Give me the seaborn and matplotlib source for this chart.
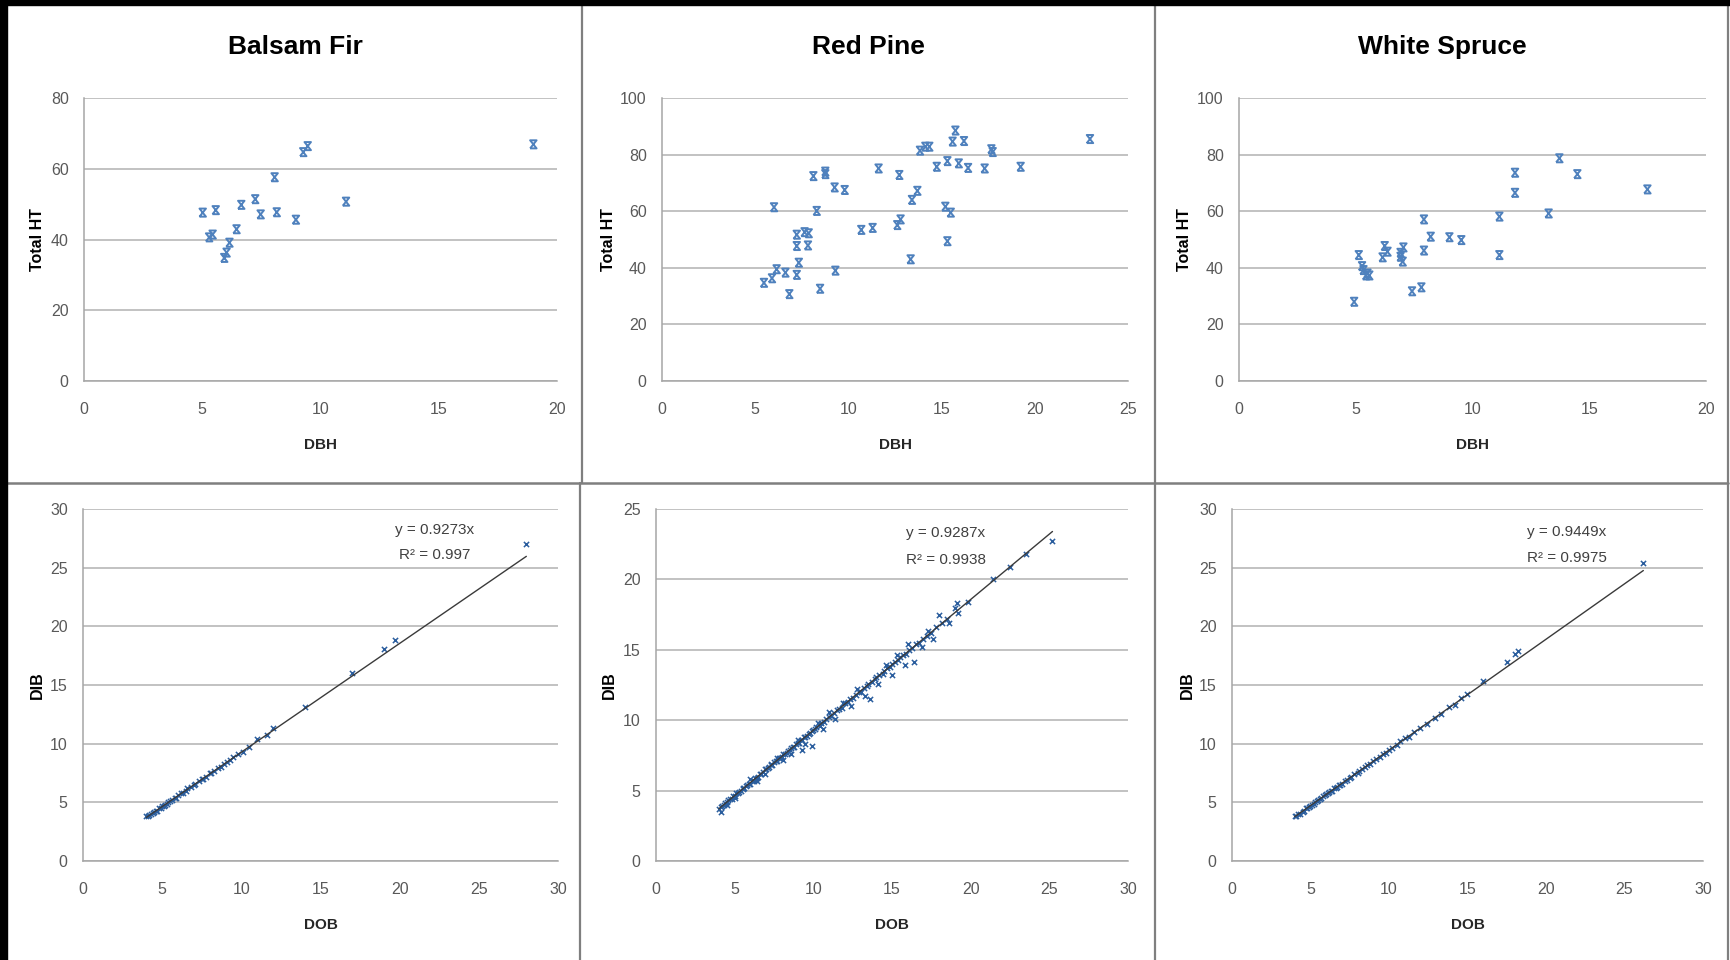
import matplotlib
matplotlib.use("Agg")
import matplotlib.pyplot as plt
from matplotlib.path import Path
from matplotlib.markers import MarkerStyle
from matplotlib.patches import Rectangle
from matplotlib.lines import Line2D
import pandas as pd
import seaborn as sns

# ---------------------------------------------------------------- data
species = ["Balsam Fir", "Red Pine", "White Spruce"]

# Total height vs. diameter at breast height
bf_dbh = [5.02, 5.57, 5.29, 5.44, 6.15, 6.03, 5.93, 6.45, 6.65, 7.24, 7.47, 8.06,
          8.15, 8.96, 9.27, 9.46, 11.08, 19.0]
bf_ht = [47.6, 48.3, 40.6, 41.4, 39.1, 36.3, 34.8, 42.9, 49.8, 51.4, 47.1, 57.6,
         47.7, 45.6, 64.7, 66.4, 50.7, 66.9]

rp_dbh = [5.47, 5.90, 6.15, 6.62, 6.83, 7.23, 7.34, 7.23, 7.23, 7.65, 7.87, 7.83,
          6.01, 8.30, 8.12, 8.76, 8.76, 9.26, 9.80, 8.48, 9.30, 10.69, 11.30, 11.62,
          12.73, 12.62, 12.80, 13.34, 13.41, 13.70, 13.84, 14.13, 14.34, 14.74, 15.31,
          15.20, 15.49, 15.31, 15.74, 15.59, 16.20, 15.92, 16.42, 17.31, 17.67, 17.74,
          19.24, 22.96]
rp_ht = [34.7, 36.3, 39.5, 38.3, 30.7, 37.5, 41.8, 47.7, 51.7, 52.6, 52.2, 47.9,
         61.4, 60.1, 72.4, 74.0, 73.1, 68.4, 67.5, 32.6, 39.0, 53.4, 54.1, 75.1,
         72.8, 55.1, 57.1, 43.0, 64.0, 67.2, 81.4, 82.8, 82.8, 75.7, 77.7,
         61.6, 59.5, 49.4, 88.5, 84.6, 84.8, 76.9, 75.3, 75.1, 81.9, 80.9,
         75.7, 85.5]

ws_dbh = [4.93, 5.13, 5.27, 5.33, 5.44, 5.58, 5.50, 6.15, 6.24, 6.36, 6.92, 7.01,
          7.04, 6.92, 7.92, 7.92, 7.41, 7.81, 8.21, 9.01, 9.52, 11.15, 11.15, 11.82,
          11.82, 13.26, 13.72, 14.49, 17.49]
ws_ht = [28.0, 44.5, 40.6, 39.2, 37.3, 37.3, 38.0, 43.7, 47.7, 45.7, 43.9, 42.2,
         47.2, 45.3, 57.1, 46.1, 31.7, 33.1, 51.0, 50.8, 49.8, 58.1, 44.5, 66.5,
         73.6, 59.2, 78.7, 73.1, 67.7]

# Diameter inside bark vs. diameter outside bark
bf_dob = [4.0, 4.1, 4.2, 4.3, 4.4, 4.5, 4.6, 4.7, 4.8, 4.9, 5.0, 5.1, 5.2, 5.3, 5.4,
          5.5, 5.6, 5.8, 5.9, 6.0, 6.2, 6.3, 6.5, 6.6, 6.8, 7.0, 7.1, 7.3, 7.5, 7.6,
          7.8, 8.0, 8.1, 8.3, 8.5, 8.7, 8.9, 9.1, 9.3, 9.5, 9.8, 10.1, 10.5, 11.0,
          11.6, 12.0, 14.0, 17.0, 19.0, 19.7, 28.0]
bf_dib = [3.8, 3.8, 3.9, 4.0, 4.1, 4.2, 4.3, 4.3, 4.5, 4.5, 4.7, 4.7, 4.8, 4.9, 5.0,
          5.1, 5.2, 5.4, 5.4, 5.6, 5.8, 5.8, 6.0, 6.2, 6.3, 6.5, 6.6, 6.8, 7.0, 7.0,
          7.2, 7.5, 7.5, 7.7, 7.9, 8.0, 8.3, 8.4, 8.6, 8.9, 9.1, 9.3, 9.7, 10.4,
          10.7, 11.3, 13.1, 16.0, 18.1, 18.8, 27.0]

rp_dob = [4.0, 4.1, 4.2, 4.3, 4.4, 4.5, 4.6, 4.7, 4.8, 4.9, 5.0, 5.1, 5.2, 5.3, 5.4,
          5.5, 5.6, 5.7, 5.8, 5.9, 6.0, 6.1, 6.2, 6.3, 6.4, 6.5, 6.6, 6.7, 6.8, 6.9,
          7.0, 7.1, 7.2, 7.3, 7.4, 7.5, 7.6, 7.7, 7.8, 7.9, 8.0, 8.1, 8.2, 8.3, 8.4,
          8.5, 8.6, 8.7, 8.8, 8.9, 9.0, 9.1, 9.2, 9.3, 9.4, 9.5, 9.6, 9.7, 9.8, 9.9,
          10.0, 10.1, 10.2, 10.4, 10.5, 10.7, 10.8, 11.0, 11.1, 11.3, 11.5, 11.6, 11.8,
          12.0, 12.2, 12.3, 12.5, 12.7, 12.9, 13.0, 13.2, 13.4, 13.5, 13.7, 13.9, 14.0,
          14.2, 14.4, 14.5, 14.7, 14.9, 15.0, 15.2, 15.4, 15.5, 15.7, 15.9, 16.1, 16.3,
          16.5, 16.7, 17.0, 17.2, 17.5, 17.8, 18.2, 18.5, 19.0, 19.2, 19.8, 21.4, 22.5,
          23.5, 25.2,
          4.1, 4.5, 5.0, 5.5, 6.0, 6.4, 6.9, 7.3, 7.7, 8.1, 8.6, 9.0, 9.3, 9.5, 9.9,
          10.3, 10.6, 11.0, 11.4, 11.9, 12.4, 12.8, 13.3, 13.6, 14.1, 14.6, 15.0, 15.3,
          15.8, 16.0, 16.4, 16.9, 17.3, 17.6, 18.0, 18.6, 19.1]
rp_dib = [3.7, 3.8, 3.9, 4.0, 4.1, 4.2, 4.3, 4.4, 4.4, 4.6, 4.6, 4.8, 4.8, 4.9, 5.0,
          5.1, 5.2, 5.3, 5.4, 5.5, 5.5, 5.7, 5.7, 5.9, 5.9, 6.0, 6.2, 6.2, 6.3, 6.5,
          6.5, 6.6, 6.7, 6.8, 6.8, 7.0, 7.1, 7.1, 7.3, 7.3, 7.4, 7.6, 7.6, 7.7, 7.8,
          7.9, 8.0, 8.1, 8.1, 8.3, 8.4, 8.4, 8.6, 8.6, 8.8, 8.8, 8.9, 9.0, 9.1, 9.2,
          9.3, 9.4, 9.5, 9.6, 9.8, 9.9, 10.1, 10.2, 10.3, 10.5, 10.7, 10.8, 10.9,
          11.2, 11.3, 11.5, 11.6, 11.8, 12.0, 12.0, 12.3, 12.4, 12.6, 12.7, 12.9, 13.1,
          13.2, 13.3, 13.5, 13.7, 13.8, 14.0, 14.1, 14.3, 14.5, 14.6, 14.7, 15.0, 15.1,
          15.4, 15.5, 15.8, 16.0, 16.2, 16.6, 16.9, 17.2, 18.0, 17.6, 18.4, 20.0, 20.9,
          21.8, 22.7,
          3.5, 4.0, 4.5, 5.2, 5.8, 5.7, 6.2, 6.9, 7.3, 7.2, 7.6, 8.6, 7.9, 8.3, 8.2,
          9.8, 9.4, 10.6, 10.1, 11.2, 11.0, 12.2, 11.7, 11.5, 12.6, 13.9, 13.2, 14.6,
          13.9, 15.4, 14.1, 15.2, 16.3, 15.8, 17.5, 16.9, 18.3]

ws_dob = [4.0, 4.1, 4.2, 4.3, 4.5, 4.6, 4.7, 4.8, 4.9, 5.0, 5.1, 5.2, 5.3, 5.4, 5.5,
          5.6, 5.7, 5.8, 5.9, 6.0, 6.1, 6.2, 6.3, 6.4, 6.5, 6.6, 6.7, 6.8, 6.9, 7.0,
          7.2, 7.3, 7.5, 7.6, 7.8, 8.0, 8.1, 8.3, 8.5, 8.6, 8.8, 9.0, 9.2, 9.4, 9.6,
          9.8, 10.0, 10.2, 10.5, 10.7, 11.0, 11.3, 11.6, 12.0, 12.4, 12.9, 13.3, 13.8,
          14.2, 14.6, 15.0, 16.0, 17.5, 18.0, 18.2, 26.2]
ws_dib = [3.8, 3.8, 4.0, 4.0, 4.2, 4.3, 4.5, 4.5, 4.6, 4.7, 4.8, 4.9, 5.0, 5.1, 5.2,
          5.3, 5.4, 5.5, 5.6, 5.7, 5.8, 5.9, 6.0, 6.0, 6.2, 6.2, 6.3, 6.5, 6.5, 6.6,
          6.8, 6.9, 7.1, 7.2, 7.4, 7.5, 7.7, 7.8, 8.0, 8.2, 8.3, 8.5, 8.7, 8.9, 9.1,
          9.2, 9.5, 9.6, 9.9, 10.2, 10.5, 10.6, 11.0, 11.3, 11.7, 12.2, 12.5, 13.1,
          13.3, 13.9, 14.2, 15.3, 17.0, 17.6, 17.9, 25.4]

# Excel linear trendlines (intercept forced to zero)
trend_slopes = [0.9273, 0.9287, 0.9449]
trend_r2 = [0.997, 0.9938, 0.9975]

# axis ranges
ht_xmax = [20, 25, 20]
ht_ymax = [80, 100, 100]
dib_ymax = [30, 25, 30]

# ---------------------------------------------------------------- styling
sns.set_theme(style="white")
FONT = ["Liberation Sans Narrow", "Liberation Sans", "DejaVu Sans"]
plt.rcParams["font.family"] = FONT

W, H = 1731, 960
BLUE = "#4F81BD"
DOT_BLUE = "#2B5E9E"
GRID = "#BDBDBD"
TICK = "#595959"


def px_rect(x0, y0, x1, y1):
    return [x0 / W, 1 - y1 / H, (x1 - x0) / W, (y1 - y0) / H]


# hourglass-shaped "x" marker as drawn by Excel
hourglass = MarkerStyle(
    Path([(-0.8, -1), (0.8, 1), (-0.8, 1), (0.8, -1), (-0.8, -1)],
         [Path.MOVETO, Path.LINETO, Path.LINETO, Path.LINETO, Path.LINETO]),
    fillstyle="none",
)

fig = plt.figure(figsize=(W / 100, H / 100), dpi=100)
fig.patch.set_facecolor("white")

top_boxes = [(84, 98, 557, 381), (662, 98, 1128, 381), (1239, 98, 1706, 381)]
bot_boxes = [(83, 509, 558, 861), (656, 509, 1128, 861), (1232, 509, 1703, 861)]
top_ylab_x = [37, 609, 1185]
bot_ylab_x = [37, 609, 1187]
title_x = [295, 868, 1442]
note_pos = [(0.741, 0.940, 0.869), (0.614, 0.932, 0.855), (0.711, 0.935, 0.861)]

ht_sets = [(bf_dbh, bf_ht), (rp_dbh, rp_ht), (ws_dbh, ws_ht)]
dib_sets = [(bf_dob, bf_dib), (rp_dob, rp_dib), (ws_dob, ws_dib)]


def style_axes(ax, xmax, ymax, ystep, box, ylab_x, xlabel, ylabel, xlab_y):
    ax.set_xlim(0, xmax)
    ax.set_ylim(0, ymax)
    ax.set_xticks(range(0, xmax + 1, 5))
    ax.set_yticks(range(0, ymax + 1, ystep))
    ax.set_axisbelow(True)
    ax.grid(axis="y", color=GRID, linewidth=1.3)
    ax.grid(axis="x", visible=False)
    for side in ("top", "right"):
        ax.spines[side].set_visible(False)
    for side in ("left", "bottom"):
        ax.spines[side].set_color("#A6A6A6")
        ax.spines[side].set_linewidth(1.1)
    ax.tick_params(axis="both", length=0, labelsize=11.5, labelcolor=TICK)
    ax.tick_params(axis="x", pad=15)
    ax.tick_params(axis="y", pad=11)
    ax.set_xlabel(xlabel, fontsize=11, fontweight="bold", color="#262626")
    ax.set_ylabel(ylabel, fontsize=11.5, fontweight="bold", color="black",
                  family=["Liberation Sans", "DejaVu Sans"])
    x0, y0, x1, y1 = box
    ax.xaxis.set_label_coords(0.5, -(xlab_y - y1) / (y1 - y0))
    ax.xaxis.label.set_va("center")
    ax.yaxis.set_label_coords((ylab_x - x0) / (x1 - x0), 0.5)
    ax.yaxis.label.set_va("center")


for i in range(3):
    # ---- top row: height scatter
    ax = fig.add_axes(px_rect(*top_boxes[i]))
    dfh = pd.DataFrame({"DBH": ht_sets[i][0], "HT": ht_sets[i][1]})
    sns.scatterplot(data=dfh, x="DBH", y="HT", ax=ax, marker=hourglass, s=34,
                    color=BLUE, linewidth=1.4, legend=False, zorder=3)
    style_axes(ax, ht_xmax[i], ht_ymax[i], 20, top_boxes[i], top_ylab_x[i],
               "DBH", "Total HT", 445)
    fig.text(title_x[i] / W, 1 - 47 / H, species[i], ha="center", va="center",
             fontsize=19, fontweight="bold", color="black")

    # ---- bottom row: bark ratio with zero-intercept trendline
    ax = fig.add_axes(px_rect(*bot_boxes[i]))
    dfd = pd.DataFrame({"DOB": dib_sets[i][0], "DIB": dib_sets[i][1]})
    sns.scatterplot(data=dfd, x="DOB", y="DIB", ax=ax, marker="x", s=14,
                    color=DOT_BLUE, linewidth=1.1, legend=False, zorder=3)
    lo, hi = dfd["DOB"].min(), dfd["DOB"].max()
    trend = pd.DataFrame({"x": [lo, hi], "y": [trend_slopes[i] * lo, trend_slopes[i] * hi]})
    sns.lineplot(data=trend, x="x", y="y", ax=ax, color="#3A3A3A", linewidth=1.0,
                 estimator=None, sort=False, legend=False, zorder=4)
    style_axes(ax, 30, dib_ymax[i], 5, bot_boxes[i], bot_ylab_x[i],
               "DOB", "DIB", 925)
    nx, ny1, ny2 = note_pos[i]
    ax.text(nx, ny1, f"y = {trend_slopes[i]}x", transform=ax.transAxes,
            ha="center", va="center", fontsize=11, color="#404040")
    ax.text(nx, ny2, f"R² = {trend_r2[i]}", transform=ax.transAxes,
            ha="center", va="center", fontsize=11, color="#404040")

# ---------------------------------------------------------------- frame
fig.add_artist(Rectangle((0, 1 - 5 / H), 1, 5 / H, transform=fig.transFigure,
                         color="black", zorder=10))
fig.add_artist(Rectangle((0, 0), 7 / W, 1, transform=fig.transFigure,
                         color="black", zorder=10))
DIV = "#7F7F7F"
for x, ya, yb in [(582, 5, 483), (1155, 5, 483), (580, 483, 960), (1155, 483, 960),
                  (1728, 5, 960)]:
    fig.add_artist(Line2D([x / W, x / W], [1 - ya / H, 1 - yb / H],
                          transform=fig.transFigure, color=DIV, linewidth=1.6))
fig.add_artist(Line2D([7 / W, 1728 / W], [1 - 483 / H, 1 - 483 / H],
                      transform=fig.transFigure, color=DIV, linewidth=1.8))

fig.savefig("out.png", dpi=100, facecolor="white")
